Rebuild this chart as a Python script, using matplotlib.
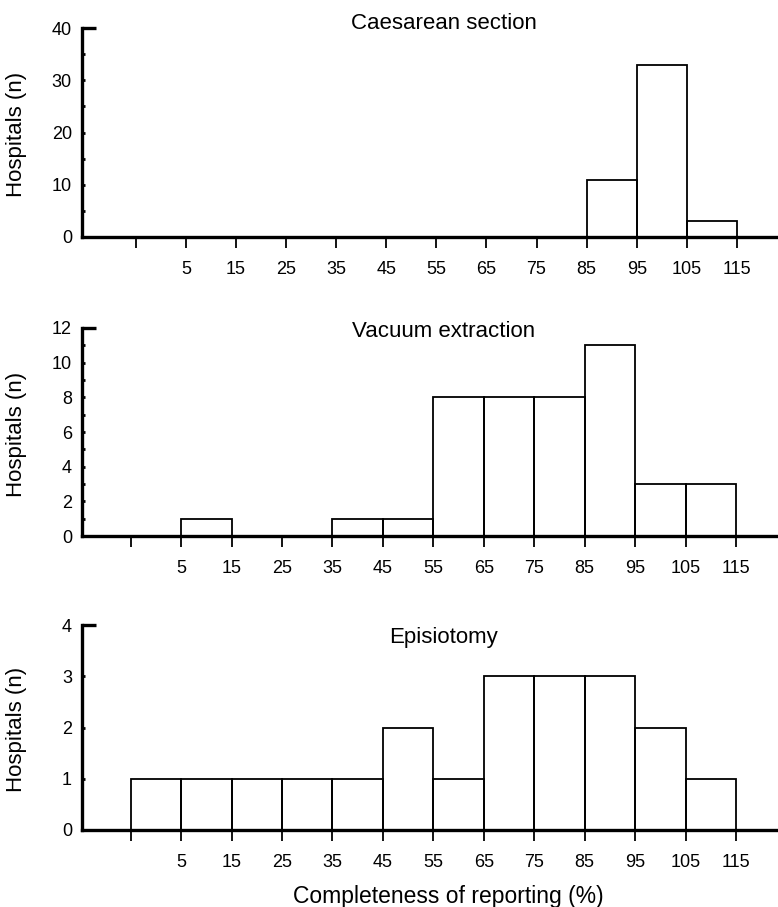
import numpy as np
import matplotlib
matplotlib.use("Agg")
import matplotlib.pyplot as plt

# bin edges of completeness (%) and counts of hospitals per bin
edges = np.arange(-5, 125, 10)          # -5, 5, ..., 115
tick_labels = [""] + [str(v) for v in edges[1:]]

caesarean = [0, 0, 0, 0, 0, 0, 0, 0, 0, 11, 33, 3]
vacuum = [0, 1, 0, 0, 1, 1, 8, 8, 8, 11, 3, 3]
episiotomy = [1, 1, 1, 1, 1, 2, 1, 3, 3, 3, 2, 1]

titles = ["Caesarean section", "Vacuum extraction", "Episiotomy"]
series = [caesarean, vacuum, episiotomy]
ymaxes = [40, 12, 4]
major_steps = [10, 2, 1]
minor_steps = [5, 1, None]

font = ["Liberation Sans", "DejaVu Sans"]

fig = plt.figure(figsize=(7.78, 9.07), dpi=100)
boxes = [
    [0.105, 0.7387, 0.895, 0.2304],
    [0.105, 0.4090, 0.895, 0.2294],
    [0.105, 0.0849, 0.895, 0.2260],
]
xlims = [(-15.8, 123.2), (-14.7, 123.3), (-14.7, 123.3)]
title_y = [1.02, 0.985, 0.94]

for i in range(3):
    ax = fig.add_axes(boxes[i])
    ymax = ymaxes[i]
    xmin, xmax = xlims[i]
    ax.bar(edges[:-1], series[i], width=10, align="edge", fill=False,
           edgecolor="black", linewidth=1.3)
    ax.set_xlim(xmin, xmax)
    ax.set_ylim(0, ymax)
    for s in ["top", "right"]:
        ax.spines[s].set_visible(False)
    for s in ["left", "bottom"]:
        ax.spines[s].set_linewidth(2.4)
    ax.set_xticks(edges)
    ax.set_xticklabels(tick_labels, family=font, fontsize=13)
    ax.tick_params(axis="x", direction="out", length=8, width=1.3, pad=9)
    majors = np.arange(0, ymax + 1, major_steps[i])
    ax.set_yticks(majors)
    ax.set_yticklabels([str(v) for v in majors], family=font, fontsize=13)
    if minor_steps[i]:
        ax.set_yticks(np.arange(0, ymax + 1, minor_steps[i]), minor=True)
    ax.tick_params(axis="y", which="both", direction="in", length=2.5,
                   width=2, pad=7)
    # short cap at the top of the y axis
    ax.plot([xmin, xmin + 2.8], [ymax, ymax], color="black", linewidth=2.4,
            clip_on=False, solid_capstyle="butt")
    ax.text(0.52, title_y[i], titles[i], transform=ax.transAxes,
            ha="center", va="center", family=font, fontsize=16)
    ax.set_ylabel("Hospitals (n)", family=font, fontsize=16)
    ax.yaxis.set_label_coords(-0.078, 0.49)

ax.set_xlabel("Completeness of reporting (%)", family=font, fontsize=16.5)
ax.xaxis.set_label_coords(0.526, -0.27)

fig.savefig("out.png", dpi=100)
